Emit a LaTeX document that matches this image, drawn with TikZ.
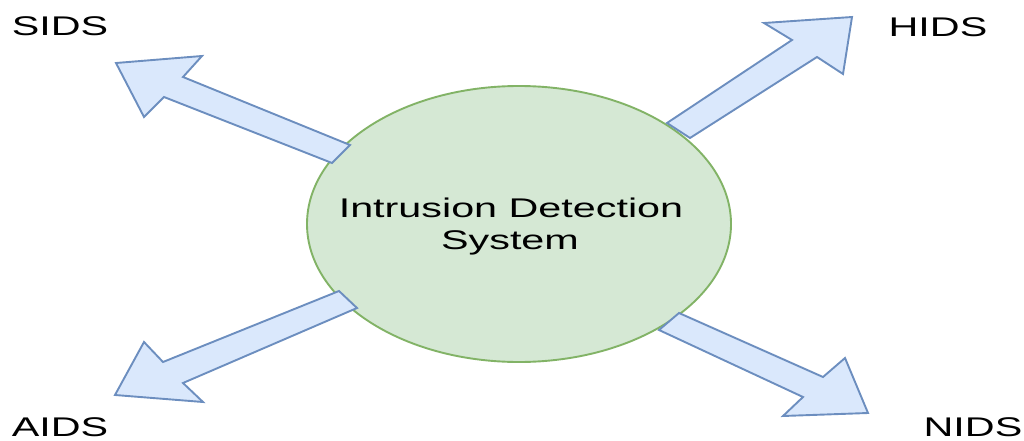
\documentclass[tikz,border=0pt]{standalone}
\usepackage{fontspec}
\setmainfont{Liberation Sans}
\usetikzlibrary{shapes.geometric}
\definecolor{gfill}{HTML}{D5E8D4}
\definecolor{gline}{HTML}{82B366}
\definecolor{bfill}{HTML}{DAE8FC}
\definecolor{bline}{HTML}{6C8EBF}
\tikzset{
  blockarrow/.style={fill=bfill, draw=bline, line width=1.9pt, line join=miter},
  idsellipse/.style={ellipse, fill=gfill, draw=gline, line width=1.9pt,
    minimum width=424pt, minimum height=276pt, inner sep=0pt},
  lbl/.style={anchor=base, inner sep=0pt, font=\fontsize{27}{32}\selectfont},
}
\newcommand{\widetext}[1]{\scalebox{1.53}[1]{#1}}
\begin{document}
\begin{tikzpicture}[x=1pt,y=-1pt]
\useasboundingbox (0,0) rectangle (1024,441);
\node[idsellipse] (ids) at (519,224) {};
\node[lbl] (t1) at (511,217) {\widetext{Intrusion Detection}};
\node[lbl] (t2) at (510,249) {\widetext{System}};

% SIDS arrow
\coordinate (sa) at (350,145);
\coordinate (sb) at (332,163);
\draw[blockarrow] (sa) -- (183,77) -- (202,56) -- (116,63) -- (144,117) -- (164,97) -- (sb) -- cycle;
% HIDS arrow
\coordinate (ha) at (667,123);
\coordinate (hb) at (690,138);
\draw[blockarrow] (ha) -- (792,40) -- (764,23) -- (852,17) -- (843,74) -- (817,57) -- (hb) -- cycle;
% AIDS arrow
\coordinate (aa) at (339,291);
\coordinate (ab) at (357,308);
\draw[blockarrow] (aa) -- (163,362) -- (144,342) -- (115,395) -- (203,402) -- (183,383) -- (ab) -- cycle;
% NIDS arrow
\coordinate (na) at (679,313);
\coordinate (nb) at (659,330);
\draw[blockarrow] (na) -- (823,377) -- (845,358) -- (868,413) -- (783,416) -- (803,397) -- (nb) -- cycle;

\node[lbl] (sids) at (60,36) {\widetext{SIDS}};
\node[lbl] (hids) at (938,37) {\widetext{HIDS}};
\node[lbl] (aids) at (60,436) {\widetext{AIDS}};
\node[lbl] (nids) at (973,436) {\widetext{NIDS}};
\end{tikzpicture}
\end{document}
